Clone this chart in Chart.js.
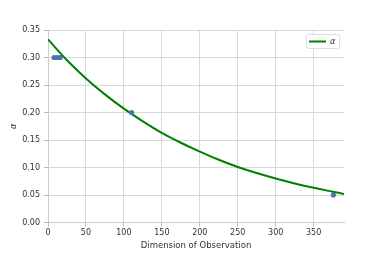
<!DOCTYPE html>
<html>
<head>
<meta charset="utf-8">
<script src="https://cdn.jsdelivr.net/npm/chart.js@4.4.1/dist/chart.umd.min.js"></script>
<style>
  html, body { margin: 0; padding: 0; background: #fff; }
  #wrap { width: 382px; height: 254px; }
</style>
</head>
<body>
<div id="wrap"><canvas id="chart" width="382" height="254"></canvas></div>
<script>
// Observed points (dimension vs alpha)
const obsX = [8, 12, 16, 110, 376];
const obsY = [0.30, 0.30, 0.30, 0.20, 0.05];

// Fitted curve
const fitX = [0, 25, 50, 75, 100, 125, 150, 175, 200, 225, 250, 275, 300, 325, 350, 375, 390];
const fitY = [0.333, 0.295, 0.262, 0.233, 0.207, 0.184, 0.163, 0.145, 0.129, 0.114, 0.101, 0.090, 0.080, 0.071, 0.063, 0.056, 0.052];

const xTicks = [0, 50, 100, 150, 200, 250, 300, 350];
const yTicks = [0.00, 0.05, 0.10, 0.15, 0.20, 0.25, 0.30, 0.35];

const FONT = 'DejaVu Sans';
const GRID = '#d9d9d9';
const TEXT = '#333333';

const toPoints = (xs, ys) => xs.map((x, i) => ({ x: x, y: ys[i] }));

// matplotlib-style legend inside the axes, upper right
const innerLegend = {
    id: 'innerLegend',
    afterDraw(chart) {
        const ds = chart.data.datasets[1];
        const area = chart.chartArea;
        const ctx = chart.ctx;
        const w = 33, h = 14;
        const x = area.right - 5 - w, y = area.top + 4;
        ctx.save();
        ctx.fillStyle = 'rgba(255,255,255,0.8)';
        ctx.strokeStyle = '#dddddd';
        ctx.lineWidth = 1;
        ctx.beginPath();
        ctx.roundRect(x + 0.5, y + 0.5, w, h, 2);
        ctx.fill();
        ctx.stroke();
        ctx.strokeStyle = ds.borderColor;
        ctx.lineWidth = ds.borderWidth;
        ctx.beginPath();
        ctx.moveTo(x + 3, y + h / 2 + 0.5);
        ctx.lineTo(x + 20, y + h / 2 + 0.5);
        ctx.stroke();
        ctx.fillStyle = TEXT;
        ctx.font = 'italic 8px "' + FONT + '"';
        ctx.textBaseline = 'middle';
        ctx.fillText(ds.label, x + 24, y + h / 2 + 0.5);
        ctx.restore();
    }
};

new Chart(document.getElementById('chart'), {
    type: 'scatter',
    data: {
        datasets: [
            {
                label: 'obs',
                data: toPoints(obsX, obsY),
                backgroundColor: '#4c72b0',
                borderColor: '#4c72b0',
                pointRadius: 2.6,
                pointBorderWidth: 0
            },
            {
                label: 'α',
                data: toPoints(fitX, fitY),
                showLine: true,
                borderColor: '#008000',
                backgroundColor: '#008000',
                borderWidth: 2,
                pointRadius: 0,
                tension: 0.4
            }
        ]
    },
    options: {
        responsive: false,
        animation: false,
        layout: { padding: { left: 0, top: 30, right: 38, bottom: 0 } },
        plugins: {
            tooltip: { enabled: false },
            legend: { display: false }
        },
        scales: {
            x: {
                type: 'linear',
                min: 0,
                max: 390,
                afterFit: s => { s.height = 31.5; },
                afterBuildTicks: s => { s.ticks = xTicks.map(v => ({ value: v })); },
                ticks: {
                    color: TEXT,
                    padding: 2,
                    maxRotation: 0,
                    font: { family: FONT, size: 8 },
                    callback: v => String(v)
                },
                grid: { color: GRID, tickColor: '#bbbbbb', tickLength: 4 },
                border: { color: '#cccccc' },
                title: {
                    display: true,
                    text: 'Dimension of Observation',
                    color: TEXT,
                    padding: { top: 0, bottom: 3 },
                    font: { family: FONT, size: 8.5 }
                }
            },
            y: {
                type: 'linear',
                min: 0,
                max: 0.35,
                afterFit: s => { s.width = 48; },
                afterBuildTicks: s => { s.ticks = yTicks.map(v => ({ value: v })); },
                ticks: {
                    color: TEXT,
                    padding: 4,
                    font: { family: FONT, size: 8 },
                    callback: v => v.toFixed(2)
                },
                grid: { color: GRID, tickColor: '#bbbbbb', tickLength: 4 },
                border: { color: '#cccccc' },
                title: {
                    display: true,
                    text: 'α',
                    color: TEXT,
                    padding: { top: 9, bottom: 0 },
                    font: { family: FONT, size: 8, style: 'italic' }
                }
            }
        }
    },
    plugins: [innerLegend]
});
</script>
</body>
</html>
